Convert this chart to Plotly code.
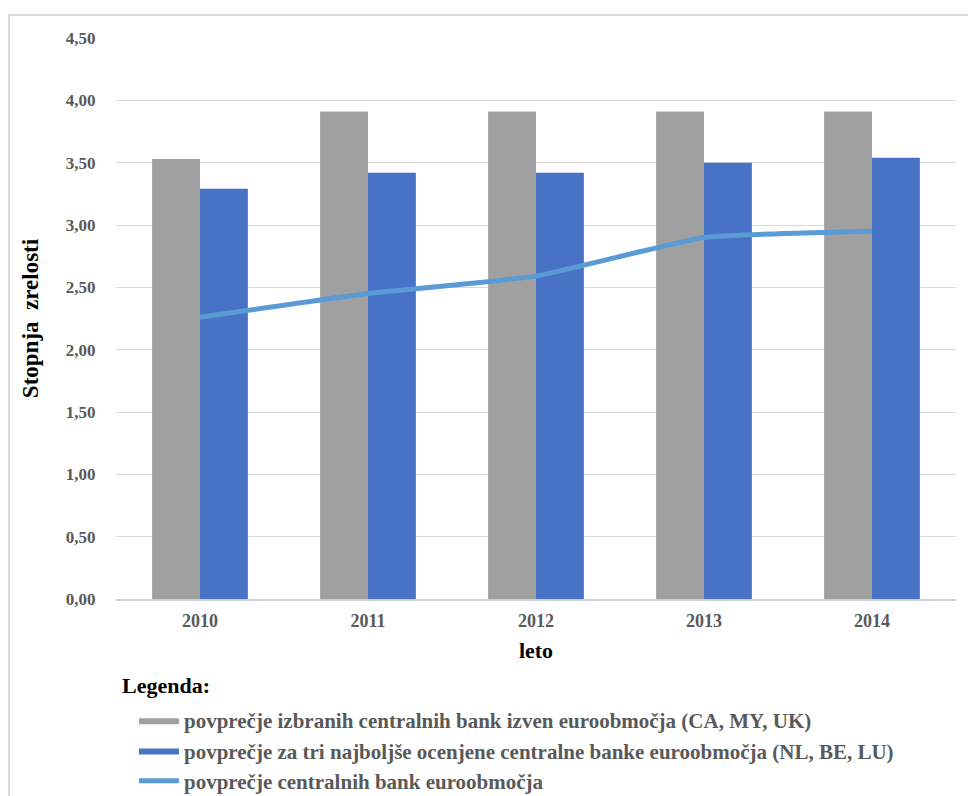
import plotly.graph_objects as go

# Podatki
leta = ["2010", "2011", "2012", "2013", "2014"]
izven_euro = [3.53, 3.91, 3.91, 3.91, 3.91]          # CA, MY, UK
najboljse_euro = [3.29, 3.42, 3.42, 3.50, 3.54]      # NL, BE, LU
povprecje_euro = [2.26, 2.45, 2.59, 2.90, 2.95]
y_ticks = [0, 0.5, 1, 1.5, 2, 2.5, 3, 3.5, 4, 4.5]
y_tick_labels = ["0,00", "0,50", "1,00", "1,50", "2,00", "2,50", "3,00", "3,50", "4,00", "4,50"]

ime_sivi = "povprečje izbranih centralnih bank izven euroobmočja (CA, MY, UK)"
ime_modri = "povprečje za tri najboljše ocenjene centralne banke euroobmočja (NL, BE, LU)"
ime_crta = "povprečje centralnih bank euroobmočja"

SERIF = "Liberation Serif, serif"
GRAY = "#a0a0a0"
BLUE = "#4872c6"
LINE = "#5b9bd5"


def bold(s):
    return "<b>" + s + "</b>"


fig = go.Figure()

fig.add_trace(go.Bar(x=leta, y=izven_euro, name=ime_sivi, marker=dict(color=GRAY, line=dict(width=0)),
                     showlegend=False))
fig.add_trace(go.Bar(x=leta, y=najboljse_euro, name=ime_modri, marker=dict(color=BLUE, line=dict(width=0)),
                     showlegend=False))
fig.add_trace(go.Scatter(x=leta, y=povprecje_euro, name=ime_crta, mode="lines",
                         line=dict(color=LINE, width=5, shape="spline", smoothing=0.4),
                         showlegend=False))

# Legend entries (wide swatches)
fig.add_trace(go.Scatter(x=[None], y=[None], mode="lines", fill="toself", fillcolor=GRAY,
                         line=dict(width=0, color=GRAY), name=bold(ime_sivi)))
fig.add_trace(go.Scatter(x=[None], y=[None], mode="lines", fill="toself", fillcolor=BLUE,
                         line=dict(width=0, color=BLUE), name=bold(ime_modri)))
fig.add_trace(go.Scatter(x=[None], y=[None], mode="lines", line=dict(color=LINE, width=5), name=bold(ime_crta)))

fig.update_layout(
    width=968, height=796,
    margin=dict(l=116, r=12, t=38, b=197),
    paper_bgcolor="white", plot_bgcolor="white",
    barmode="group", bargap=0.43, bargroupgap=0,
    font=dict(family=SERIF, color="#595959"),
    xaxis=dict(
        type="category", range=[-0.5, 4.5],
        tickvals=leta, ticktext=[bold(t) for t in leta],
        tickfont=dict(family=SERIF, size=18, color="#595959"),
        showgrid=False, showline=True, linecolor="#d0d0d0", linewidth=1.5,
        ticks="outside", ticklen=5, tickcolor="rgba(0,0,0,0)",
        title=dict(text=bold("leto"), font=dict(family=SERIF, size=22, color="black"), standoff=12),
    ),
    yaxis=dict(
        range=[0, 4.5], tickvals=y_ticks, ticktext=[bold(t) for t in y_tick_labels],
        tickfont=dict(family=SERIF, size=17, color="#595959"),
        showgrid=True, gridcolor="#d9d9d9", gridwidth=1, zeroline=False,
        ticks="outside", ticklen=16, tickcolor="rgba(0,0,0,0)",
        title=dict(text=bold("Stopnja\u00a0\u00a0zrelosti"), font=dict(family=SERIF, size=23, color="black"),
                   standoff=20),
    ),
    legend=dict(
        x=0.0214, xanchor="left", yref="container", y=0.1206, yanchor="top",
        font=dict(family=SERIF, size=21, color="#595959"),
        itemwidth=40, tracegroupgap=0, traceorder="normal",
        bgcolor="rgba(0,0,0,0)",
    ),
    annotations=[dict(
        text=bold("Legenda:"), xref="paper", yref="paper", x=0.005, y=-0.1533,
        xanchor="left", yanchor="middle", showarrow=False,
        font=dict(family=SERIF, size=22, color="black"),
    )],
    shapes=[dict(
        type="rect", xref="paper", yref="paper",
        x0=-0.1274, x1=1.2, y0=-0.6, y1=1.041,
        line=dict(color="#d9d9d9", width=2), fillcolor="rgba(0,0,0,0)", layer="below",
    )],
)

fig.write_html("out.html")
